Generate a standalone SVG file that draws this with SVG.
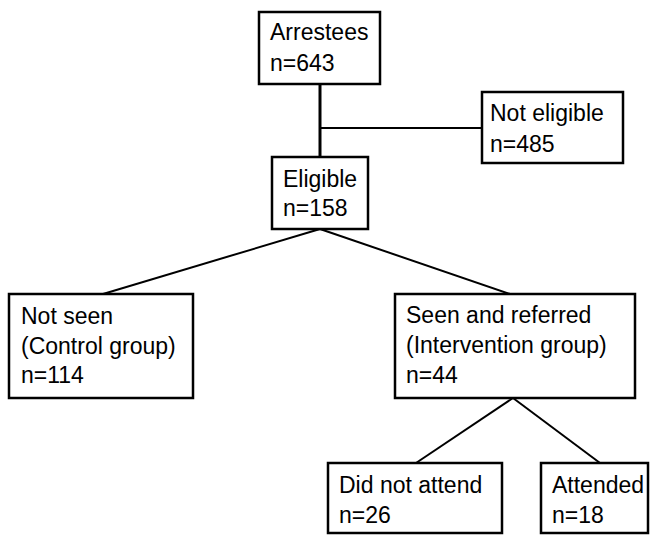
<svg xmlns="http://www.w3.org/2000/svg" width="652" height="536" viewBox="0 0 652 536">
<style>
.box{fill:#fff;stroke:#000;stroke-width:2.5}
.t{font-family:"Liberation Sans",Arial,sans-serif;font-size:23px;fill:#000}
.c{stroke:#000;stroke-width:2;fill:none}
</style>
<rect width="652" height="536" fill="#fff"/>
<g id="connectors">
<line class="c" x1="320" y1="84" x2="320" y2="157" style="stroke-width:3"/>
<line class="c" x1="320" y1="128" x2="482" y2="128"/>
<line class="c" x1="320" y1="229" x2="103" y2="294"/>
<line class="c" x1="320" y1="229" x2="510" y2="294"/>
<line class="c" x1="513" y1="398" x2="416" y2="463"/>
<line class="c" x1="513" y1="398" x2="600" y2="463"/>
</g>
<g id="arrestees">
<rect class="box" x="259" y="12" width="121" height="72"/>
<text class="t" x="270" y="40">Arrestees</text>
<text class="t" x="270" y="71">n=643</text>
</g>
<g id="not-eligible">
<rect class="box" x="482" y="92" width="141" height="71"/>
<text class="t" x="490" y="121">Not eligible</text>
<text class="t" x="490" y="152">n=485</text>
</g>
<g id="eligible">
<rect class="box" x="272" y="157" width="96" height="72"/>
<text class="t" x="283" y="187">Eligible</text>
<text class="t" x="283" y="216">n=158</text>
</g>
<g id="not-seen">
<rect class="box" x="9" y="294" width="184" height="104"/>
<text class="t" x="21" y="324">Not seen</text>
<text class="t" x="21" y="354">(Control group)</text>
<text class="t" x="21" y="383">n=114</text>
</g>
<g id="seen">
<rect class="box" x="395" y="294" width="240" height="104"/>
<text class="t" x="406" y="323">Seen and referred</text>
<text class="t" x="406" y="353">(Intervention group)</text>
<text class="t" x="406" y="383">n=44</text>
</g>
<g id="did-not-attend">
<rect class="box" x="328" y="463" width="174" height="70"/>
<text class="t" x="339" y="493">Did not attend</text>
<text class="t" x="339" y="523">n=26</text>
</g>
<g id="attended">
<rect class="box" x="541" y="463" width="107" height="70"/>
<text class="t" x="552" y="493">Attended</text>
<text class="t" x="552" y="523">n=18</text>
</g>
</svg>
